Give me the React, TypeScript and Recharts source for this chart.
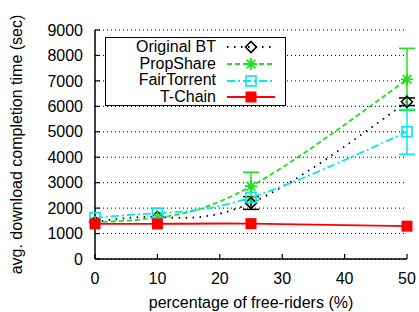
import { LineChart, Line, XAxis, YAxis, CartesianGrid, Legend, ErrorBar } from "recharts";

const freeRiders = [0, 10, 25, 50];
const originalBT = [1450, 1650, 2200, 6180];
const propShare = [1450, 1620, 2860, 7060];
const fairTorrent = [1620, 1800, 2420, 5000];
const tChain = [1380, 1380, 1390, 1290];
const propShareErr = [0, 0, 550, 1220];
const fairTorrentErr = [0, 0, 0, 880];
const originalBTErr = [0, 0, 250, 150];
const yTicks = [0, 1000, 2000, 3000, 4000, 5000, 6000, 7000, 8000, 9000];
const xTicks = [0, 10, 20, 30, 40, 50];

const rows = freeRiders.map((x, i) => ({
  x,
  bt: originalBT[i],
  ps: propShare[i],
  ft: fairTorrent[i],
  tc: tChain[i],
  psErr: propShareErr[i],
  ftErr: fairTorrentErr[i],
  btErr: originalBTErr[i],
}));

const FONT = "'Liberation Sans', Arial, Helvetica, sans-serif";

type Mark = "diamond" | "star" | "square" | "filled";

function Marker({ kind, cx, cy, color }: { kind: Mark; cx: number; cy: number; color: string }) {
  if (kind === "diamond") {
    const r = 5.5;
    return (
      <path d={`M${cx},${cy - r}L${cx + r},${cy}L${cx},${cy + r}L${cx - r},${cy}Z`} fill="none" stroke={color} strokeWidth={1.6} />
    );
  }
  if (kind === "star") {
    const r = 6;
    const d = 4.3;
    return (
      <path
        d={`M${cx - r},${cy}L${cx + r},${cy}M${cx},${cy - r}L${cx},${cy + r}M${cx - d},${cy - d}L${cx + d},${cy + d}M${cx - d},${cy + d}L${cx + d},${cy - d}`}
        stroke={color}
        strokeWidth={1.8}
      />
    );
  }
  if (kind === "square") {
    return <rect x={cx - 5} y={cy - 5} width={10} height={10} fill="none" stroke={color} strokeWidth={1.6} />;
  }
  return <rect x={cx - 5.5} y={cy - 5.5} width={11} height={11} fill={color} />;
}

const series = [
  { key: "bt", name: "Original BT", color: "#000000", dash: "1.5 5.5", mark: "diamond" as Mark },
  { key: "ps", name: "PropShare", color: "#1ee01e", dash: "5 3", mark: "star" as Mark },
  { key: "ft", name: "FairTorrent", color: "#00e8f0", dash: "8 3 2 3", mark: "square" as Mark },
  { key: "tc", name: "T-Chain", color: "#ff0000", dash: undefined, mark: "filled" as Mark },
];

function LegendBox() {
  return (
    <div
      style={{
        boxSizing: "border-box",
        width: 181,
        height: 69,
        border: "1px solid #000",
        background: "#fff",
        paddingTop: 1,
        fontFamily: FONT,
        fontSize: 16,
        color: "#000",
      }}
    >
      {series.map((s) => (
        <div key={s.key} style={{ display: "flex", alignItems: "center", height: 16.7, lineHeight: "16.7px" }}>
          <span style={{ width: 110, textAlign: "right", whiteSpace: "nowrap" }}>{s.name}</span>
          <svg width={68} height={16} style={{ display: "block" }}>
            <line x1={11} x2={59} y1={8} y2={8} stroke={s.color} strokeWidth={1.8} strokeDasharray={s.dash} />
            <Marker kind={s.mark} cx={35} cy={8} color={s.color} />
          </svg>
        </div>
      ))}
    </div>
  );
}

export default function App() {
  const tick = { fill: "#000", fontSize: 16, fontFamily: FONT };
  return (
    <div style={{ position: "absolute", left: 0, top: 0, width: 419, height: 312, background: "#fff" }}>
      <LineChart width={419} height={312} data={rows} margin={{ top: 30, right: 12, bottom: 0, left: 0 }}>
        <CartesianGrid vertical={false} stroke="#000" strokeDasharray="1 3" />
        <XAxis
          dataKey="x"
          type="number"
          domain={[0, 50]}
          ticks={xTicks}
          height={53}
          tickSize={-5}
          tickMargin={19}
          tick={tick}
          axisLine={{ stroke: "#000", strokeWidth: 1.5 }}
          tickLine={{ stroke: "#000", strokeWidth: 1.2 }}
          label={{ value: "percentage of free-riders (%)", position: "center", dy: 17, fill: "#000", fontSize: 16, fontFamily: FONT }}
        />
        <XAxis
          xAxisId="top"
          orientation="top"
          type="number"
          domain={[0, 50]}
          ticks={xTicks}
          height={0}
          tickSize={-5}
          tick={false}
          axisLine={{ stroke: "#000", strokeWidth: 1.5 }}
          tickLine={{ stroke: "#000", strokeWidth: 1.2 }}
        />
        <YAxis
          domain={[0, 9000]}
          ticks={yTicks}
          width={95}
          tickSize={-5}
          tickMargin={17}
          tick={tick}
          axisLine={{ stroke: "#000", strokeWidth: 1.5 }}
          tickLine={{ stroke: "#000", strokeWidth: 1.2 }}
          label={{ value: "avg. download completion time (sec)", angle: -90, position: "center", dx: -31, fill: "#000", fontSize: 16, fontFamily: FONT }}
        />
        <YAxis
          yAxisId="right"
          orientation="right"
          domain={[0, 9000]}
          ticks={yTicks}
          width={0}
          tickSize={-5}
          tick={false}
          axisLine={{ stroke: "#000", strokeWidth: 1.5 }}
          tickLine={{ stroke: "#000", strokeWidth: 1.2 }}
        />
        <Legend
          layout="vertical"
          align="center"
          verticalAlign="middle"
          content={() => <LegendBox />}
          wrapperStyle={{ left: 105, top: 37, width: 181, height: 69 }}
        />
        {series.map((s) => (
          <Line
            key={s.key}
            dataKey={s.key}
            name={s.name}
            type="natural"
            stroke={s.color}
            strokeWidth={1.8}
            strokeDasharray={s.dash}
            isAnimationActive={false}
            activeDot={false}
            dot={(p: any) => <Marker key={`${s.key}-${p.index}`} kind={s.mark} cx={p.cx} cy={p.cy} color={s.color} />}
          >
            {s.key === "ps" && <ErrorBar dataKey="psErr" width={8} stroke={s.color} strokeWidth={1.5} direction="y" />}
            {s.key === "ft" && <ErrorBar dataKey="ftErr" width={8} stroke={s.color} strokeWidth={1.5} direction="y" />}
            {s.key === "bt" && <ErrorBar dataKey="btErr" width={8} stroke={s.color} strokeWidth={1.5} direction="y" />}
          </Line>
        ))}
      </LineChart>
    </div>
  );
}
